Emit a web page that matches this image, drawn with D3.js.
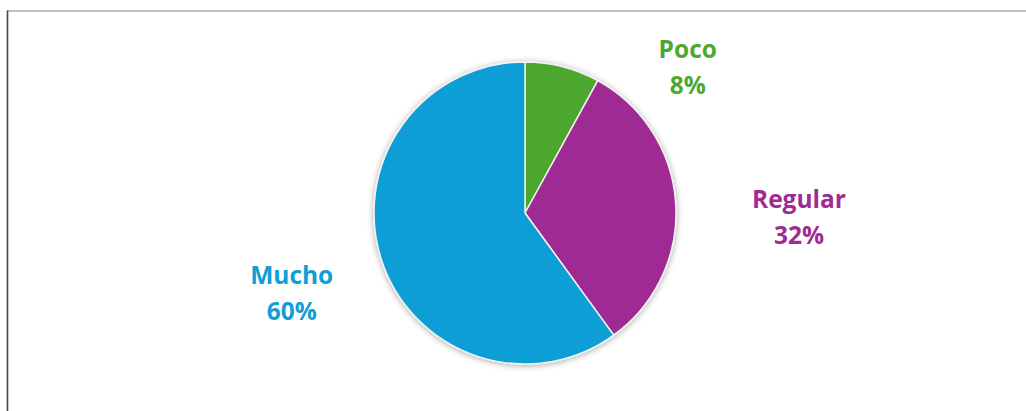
<!DOCTYPE html>
<html>
<head>
<meta charset="utf-8">
<script src="https://cdn.jsdelivr.net/npm/d3@7"></script>
<style>
  html, body { margin: 0; padding: 0; background: #ffffff; }
  svg { display: block; }
</style>
</head>
<body>
<svg id="chart" width="1026" height="411"></svg>
<script>
// Survey answers and their shares (percent)
const categories = ["Poco", "Regular", "Mucho"];
const shares = [8, 32, 60];
const sliceColors = ["#4EA72E", "#A02B93", "#0F9ED5"];

const W = 1026, H = 411;
const cx = 525, cy = 213, radius = 151;

const svg = d3.select("#chart");

// frame edges
svg.append("line").attr("x1", 7).attr("x2", W).attr("y1", 11).attr("y2", 11)
  .attr("stroke", "#a8a8a8").attr("stroke-width", 1.5);
svg.append("line").attr("x1", 7.5).attr("x2", 7.5).attr("y1", 10.5).attr("y2", H)
  .attr("stroke", "#474747").attr("stroke-width", 1.6);

// soft shadow under the pie
const defs = svg.append("defs");
const f = defs.append("filter").attr("id", "pieShadow")
  .attr("x", "-20%").attr("y", "-20%").attr("width", "140%").attr("height", "140%");
f.append("feDropShadow").attr("dx", 0).attr("dy", 1).attr("stdDeviation", 3)
  .attr("flood-color", "#000").attr("flood-opacity", 0.35);

const data = categories.map((c, i) => ({ name: c, value: shares[i], color: sliceColors[i] }));

const pie = d3.pie().value(d => d.value).sort(null);
const arcs = pie(data);
const arc = d3.arc().innerRadius(0).outerRadius(radius);

const g = svg.append("g").attr("transform", `translate(${cx},${cy})`);
g.append("g").attr("filter", "url(#pieShadow)")
  .selectAll("path").data(arcs).join("path")
  .attr("d", arc)
  .attr("fill", d => d.data.color)
  .attr("stroke", "#f2f2f2")
  .attr("stroke-width", 1.5)
  .attr("stroke-linejoin", "round");

// outside labels: direction (degrees clockwise from top) and distance from centre
const labelPlacement = {
  "Poco":    { angle: 48.3,  dist: 218 },
  "Regular": { angle: 91.0,  dist: 274 },
  "Mucho":   { angle: 250.8, dist: 247 }
};

const lab = g.selectAll("text.lbl").data(arcs).join("text")
  .attr("class", "lbl")
  .attr("text-anchor", "middle")
  .attr("font-family", "'Open Sans', 'DejaVu Sans', sans-serif")
  .attr("font-weight", 700)
  .attr("font-size", 24.5)
  .attr("fill", d => d.data.color)
  .attr("transform", d => {
    const p = labelPlacement[d.data.name];
    const a = p.angle * Math.PI / 180;
    return `translate(${Math.sin(a) * p.dist},${-Math.cos(a) * p.dist})`;
  });
lab.append("tspan").attr("x", 0).attr("y", -10).text(d => d.data.name);
lab.append("tspan").attr("x", 0).attr("y", 26).text(d => d3.format(".0f")(d.data.value) + "%");
</script>
</body>
</html>
